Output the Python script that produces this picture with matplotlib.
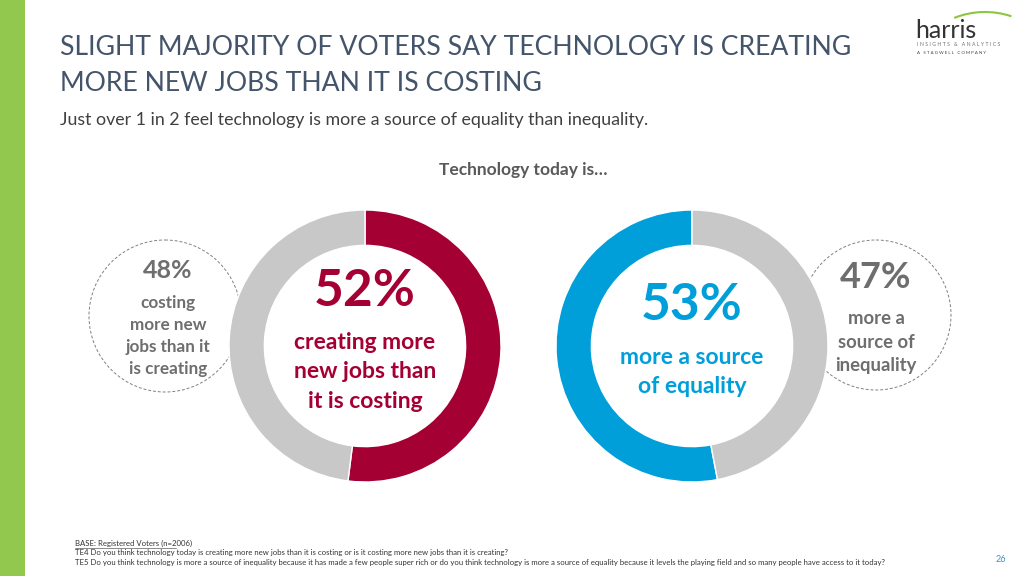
import matplotlib.pyplot as plt
from matplotlib.patches import Circle, Rectangle, Arc

plt.rcParams['font.family'] = ['Lato', 'DejaVu Sans']

# data
jobs_labels = ['creating more new jobs than it is costing', 'costing more new jobs than it is creating']
jobs_values = [52, 48]
equality_labels = ['more a source of equality', 'more a source of inequality']
equality_values = [53, 47]

title = 'SLIGHT MAJORITY OF VOTERS SAY TECHNOLOGY IS CREATING\nMORE NEW JOBS THAN IT IS COSTING'
subtitle = 'Just over 1 in 2 feel technology is more a source of equality than inequality.'
footnotes = [
    'BASE: Registered Voters (n=2006)',
    'TE4 Do you think technology today is creating more new jobs than it is costing or is it costing more new jobs than it is creating?',
    'TE5 Do you think technology is more a source of inequality because it has made a few people super rich or do you think '
    'technology is more a source of equality because it levels the playing field and so many people have access to it today?',
]

RED = '#A50034'
BLUE = '#009FDA'
GRAY = '#C8C8C8'
TXT_GRAY = '#6E6E6E'
W, H = 1024, 576

fig = plt.figure(figsize=(10.24, 5.76), dpi=100)
bg = fig.add_axes([0, 0, 1, 1])
bg.set_xlim(0, W)
bg.set_ylim(H, 0)
bg.axis('off')

# green side bar
bg.add_patch(Rectangle((0, 0), 25, H, color='#92C84E', lw=0))

bg.text(60, 65.5, title, fontsize=19.2, color='#44546A', va='center', ha='left', linespacing=1.58)
bg.text(60, 120, subtitle, fontsize=12.8, color='#404040', va='center', ha='left')
bg.text(523, 170, 'Technology today is…', fontsize=12.5, color='#595959', fontweight='bold',
        ha='center', va='center')


def donut(cx, cy, r, values, colors, counterclock):
    ax = fig.add_axes([(cx - r) / W, (H - cy - r) / H, 2 * r / W, 2 * r / H])
    ax.pie(values, colors=colors, startangle=90, counterclock=counterclock,
           wedgeprops=dict(width=0.26, linewidth=1, edgecolor='white'))
    ax.set_xlim(-1, 1)
    ax.set_ylim(-1, 1)
    ax.axis('off')
    return ax


donut(365, 346, 136, jobs_values, [RED, GRAY], counterclock=False)
donut(692, 346, 136, equality_values, [BLUE, GRAY], counterclock=True)

# centre texts
bg.text(365, 292, f'{jobs_values[0]}%', fontsize=37, fontweight='bold', color=RED, ha='center', va='center')
bg.text(365, 372, 'creating more\nnew jobs than\nit is costing', fontsize=16.5, fontweight='bold', color=RED,
        ha='center', va='center', linespacing=1.5)
bg.text(692, 306, f'{equality_values[0]}%', fontsize=37, fontweight='bold', color=BLUE, ha='center', va='center')
bg.text(692, 372, 'more a source\nof equality', fontsize=16.5, fontweight='bold', color=BLUE,
        ha='center', va='center', linespacing=1.5)

# dashed side circles
bg.add_patch(Circle((165, 316), 76, fill=False, ls=(0, (3, 2)), lw=0.7, ec='#808080'))
bg.add_patch(Circle((876, 315), 75, fill=False, ls=(0, (3, 2)), lw=0.7, ec='#808080'))

bg.text(168, 271, f'{jobs_values[1]}%', fontsize=18, fontweight='bold', color=TXT_GRAY, ha='center', va='center')
bg.text(168, 336, 'costing\nmore new\njobs than it\nis creating', fontsize=12.3, fontweight='bold',
        color=TXT_GRAY, ha='center', va='center', linespacing=1.45)
bg.text(876, 278, f'{equality_values[1]}%', fontsize=26, fontweight='bold', color=TXT_GRAY, ha='center', va='center')
bg.text(876, 342, 'more a\nsource of\ninequality', fontsize=13.3, fontweight='bold', color=TXT_GRAY,
        ha='center', va='center', linespacing=1.45)

# footnotes
for i, line in enumerate(footnotes):
    bg.text(75, 543 + i * 10, line, fontsize=5.62, color='#333333', ha='left', va='center')
bg.plot([75, 176], [547.5, 547.5], color='#333333', lw=0.4)
bg.text(1001, 560, '26', fontsize=6.5, color='#3E8DC9', ha='center', va='center')

# logo
bg.add_patch(Arc((985, 62), 130, 100, theta1=235, theta2=300, color='#8DC63F', lw=1.5))
bg.text(915, 31, 'harris', fontsize=18, color='#333333', ha='left', va='center')
bg.text(917, 44, 'I N S I G H T S   &   A N A L Y T I C S', fontsize=3.7, color='#707070', ha='left', va='center')
bg.text(917, 53, 'A   S T A G W E L L   C O M P A N Y', fontsize=3.2, color='#404040', ha='left', va='center')

fig.savefig('out.png', dpi=100)
